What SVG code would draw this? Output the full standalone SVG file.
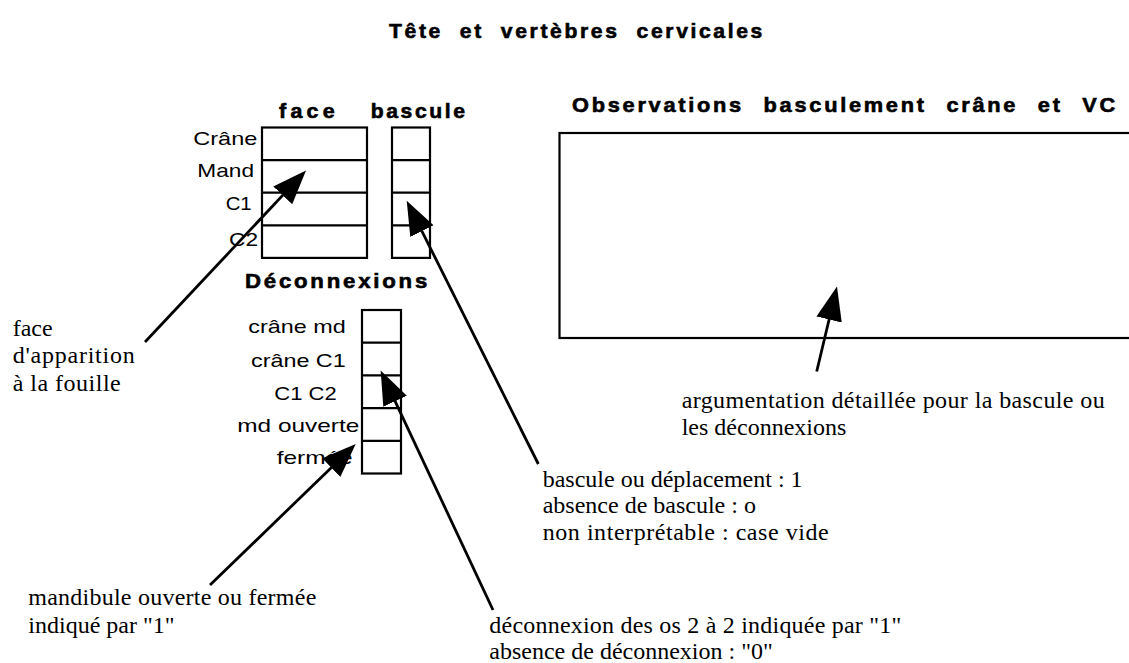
<svg xmlns="http://www.w3.org/2000/svg" width="1129" height="663" viewBox="0 0 1129 663">
<defs>
<style>
.bg{fill:#fff}
.cell{fill:none;stroke:#000;stroke-width:2.2}
.hdr{font-family:"Liberation Sans",Arial,sans-serif;font-weight:bold;font-size:20px;fill:#000;stroke:#000;stroke-width:0.6}
.lbl{font-family:"Liberation Sans",Arial,sans-serif;font-size:19px;fill:#000}
.note{font-family:"Liberation Serif","Times New Roman",serif;font-size:24px;fill:#000}
.conn{stroke:#000;stroke-width:2.8;fill:none;marker-end:url(#ah)}
</style>
<marker id="ah" markerUnits="userSpaceOnUse" viewBox="0 0 40 30" markerWidth="40" markerHeight="30" refX="28" refY="13" orient="auto">
<path d="M0,0 L34,13 L0,26 Z" fill="#000"/>
</marker>
</defs>
<rect class="bg" x="0" y="0" width="1129" height="663"/>

<g id="title">
<text class="hdr" x="389" y="38" letter-spacing="2.5" word-spacing="8" textLength="376" lengthAdjust="spacingAndGlyphs">Tête et vertèbres cervicales</text>
</g>

<g id="face-table">
<text class="hdr" x="279" y="117.7" letter-spacing="4" textLength="60" lengthAdjust="spacingAndGlyphs">face</text>
<rect class="cell" x="262" y="127.5" width="105" height="130.4"/>
<line class="cell" x1="262" y1="160.1" x2="367" y2="160.1"/>
<line class="cell" x1="262" y1="192.7" x2="367" y2="192.7"/>
<line class="cell" x1="262" y1="225.3" x2="367" y2="225.3"/>
<text class="lbl" x="193.3" y="145.3" textLength="64" lengthAdjust="spacingAndGlyphs">Crâne</text>
<text class="lbl" x="197.3" y="176.7" textLength="56.7" lengthAdjust="spacingAndGlyphs">Mand</text>
<text class="lbl" x="225.7" y="210" textLength="26" lengthAdjust="spacingAndGlyphs">C1</text>
<text class="lbl" x="229" y="246" textLength="29" lengthAdjust="spacingAndGlyphs">C2</text>
</g>

<g id="bascule-table">
<text class="hdr" x="370.7" y="117.7" letter-spacing="2.5" textLength="97" lengthAdjust="spacingAndGlyphs">bascule</text>
<rect class="cell" x="392" y="127.5" width="38" height="130.4"/>
<line class="cell" x1="392" y1="160.1" x2="430" y2="160.1"/>
<line class="cell" x1="392" y1="192.7" x2="430" y2="192.7"/>
<line class="cell" x1="392" y1="225.3" x2="430" y2="225.3"/>
</g>

<g id="deconnexions-table">
<text class="hdr" x="245" y="288.3" letter-spacing="2.5" textLength="185" lengthAdjust="spacingAndGlyphs">Déconnexions</text>
<rect class="cell" x="362" y="310" width="39" height="163.5"/>
<line class="cell" x1="362" y1="342.7" x2="401" y2="342.7"/>
<line class="cell" x1="362" y1="375.4" x2="401" y2="375.4"/>
<line class="cell" x1="362" y1="408.1" x2="401" y2="408.1"/>
<line class="cell" x1="362" y1="440.8" x2="401" y2="440.8"/>
<text class="lbl" x="248.3" y="333.3" textLength="97.4" lengthAdjust="spacingAndGlyphs">crâne md</text>
<text class="lbl" x="251" y="366.7" textLength="94.7" lengthAdjust="spacingAndGlyphs">crâne C1</text>
<text class="lbl" x="274.3" y="400" textLength="62.4" lengthAdjust="spacingAndGlyphs">C1 C2</text>
<text class="lbl" x="237.3" y="431.7" textLength="122" lengthAdjust="spacingAndGlyphs">md ouverte</text>
<text class="lbl" x="276.7" y="463.5" textLength="76" lengthAdjust="spacingAndGlyphs">fermée</text>
</g>

<g id="observations">
<text class="hdr" x="572" y="112" font-size="20.5" letter-spacing="2.5" word-spacing="10" textLength="546" lengthAdjust="spacingAndGlyphs">Observations basculement crâne et VC</text>
<rect class="cell" x="559.5" y="133" width="580" height="205"/>
</g>

<g id="note-face">
<text class="note" x="12.7" y="336">face</text>
<text class="note" x="12.7" y="363.3" textLength="122">d'apparition</text>
<text class="note" x="12.7" y="391" textLength="108">à la fouille</text>
</g>

<g id="note-mandibule">
<text class="note" x="28.3" y="605" textLength="288">mandibule ouverte ou fermée</text>
<text class="note" x="28.3" y="632.7">indiqué par "1"</text>
</g>

<g id="note-argumentation">
<text class="note" x="681.7" y="408" textLength="423">argumentation détaillée pour la bascule ou</text>
<text class="note" x="681.7" y="435">les déconnexions</text>
</g>

<g id="note-bascule">
<text class="note" x="542.7" y="486.7">bascule ou déplacement : 1</text>
<text class="note" x="542.7" y="513.3">absence de bascule : o</text>
<text class="note" x="542.7" y="540" textLength="286">non interprétable : case vide</text>
</g>

<g id="note-deconnexion">
<text class="note" x="489.3" y="633" textLength="412">déconnexion des os 2 à 2 indiquée par "1"</text>
<text class="note" x="489.3" y="659">absence de déconnexion : "0"</text>
</g>

<g id="connectors">
<line class="conn" x1="145" y1="342" x2="301.9" y2="174.9"/>
<line class="conn" x1="538.3" y1="464" x2="409.4" y2="206.1"/>
<line class="conn" x1="493" y1="610" x2="383.2" y2="375.9"/>
<line class="conn" x1="210" y1="585" x2="351.4" y2="448.2"/>
<line class="conn" x1="816.7" y1="371.5" x2="835.6" y2="292.3"/>
</g>
</svg>
